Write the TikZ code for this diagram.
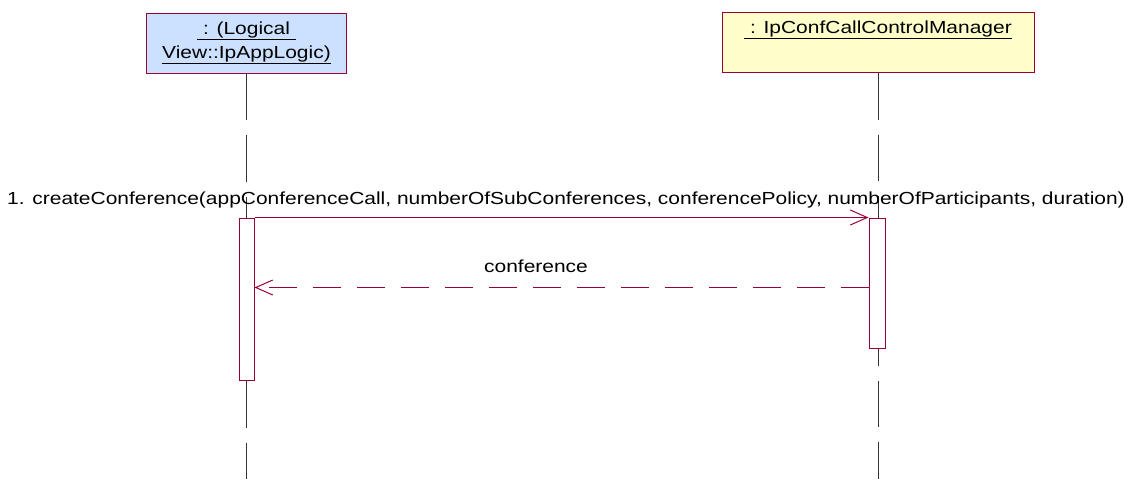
\documentclass[tikz,border=0pt]{standalone}
\usepackage{fontspec}
\setmainfont[FakeStretch=1.2]{Liberation Sans}
\usetikzlibrary{arrows.meta}
\definecolor{rosered}{RGB}{153,0,51}
\definecolor{appblue}{RGB}{204,224,255}
\definecolor{mgryellow}{RGB}{255,255,204}

\begin{document}
\begin{tikzpicture}[x=0.75pt,y=-0.75pt,
    every node/.style={font=\fontsize{13.1pt}{18pt}\selectfont},
    objbox/.style={draw=rosered,line width=0.75pt,align=center,inner sep=0pt,minimum height=45pt},
    lifeline/.style={draw=black!80,line width=0.75pt,dash pattern=on 34.9pt off 11.25pt},
    actbar/.style={draw=rosered,fill=white,line width=0.75pt,inner sep=0pt},
    msg/.style={draw=rosered,line width=0.75pt,-{Straight Barb[length=12.75pt,width=11.25pt]}},
    ret/.style={msg,dash pattern=on 21pt off 12pt}]
    \useasboundingbox (0,0) rectangle (1130,479);

    % objects
    \node[objbox,fill=appblue,minimum width=150pt] (app) at (246.5,43) {\underline{\ : (Logical\ }\\\underline{View::IpAppLogic)}};
    \node[objbox,fill=mgryellow,minimum width=234pt] (mgr) at (878,42.5) {\underline{\ : IpConfCallControlManager}\\\strut};

    % lifelines
    \coordinate (bottom) at (0,479);
    \draw[lifeline] (app.south) -- (app.south |- bottom);
    \draw[lifeline] (mgr.south) -- (mgr.south |- bottom);

    % activations
    \node[actbar,minimum width=11.25pt,minimum height=121.5pt] (appact) at (246.5,299) {};
    \node[actbar,minimum width=12pt,minimum height=97.5pt] (mgract) at (877,283) {};

    % messages
    \draw[msg] (appact.north east) -- (mgract.north west);
    \draw[ret] ([yshift=-52.5pt]mgract.north west) -- ([yshift=-52.5pt]appact.north east);
    \node (createlbl) at (566,200) {1. createConference(appConferenceCall, numberOfSubConferences, conferencePolicy, numberOfParticipants, duration)};
    \node (retlbl) at (536,266) {conference};
\end{tikzpicture}
\end{document}
